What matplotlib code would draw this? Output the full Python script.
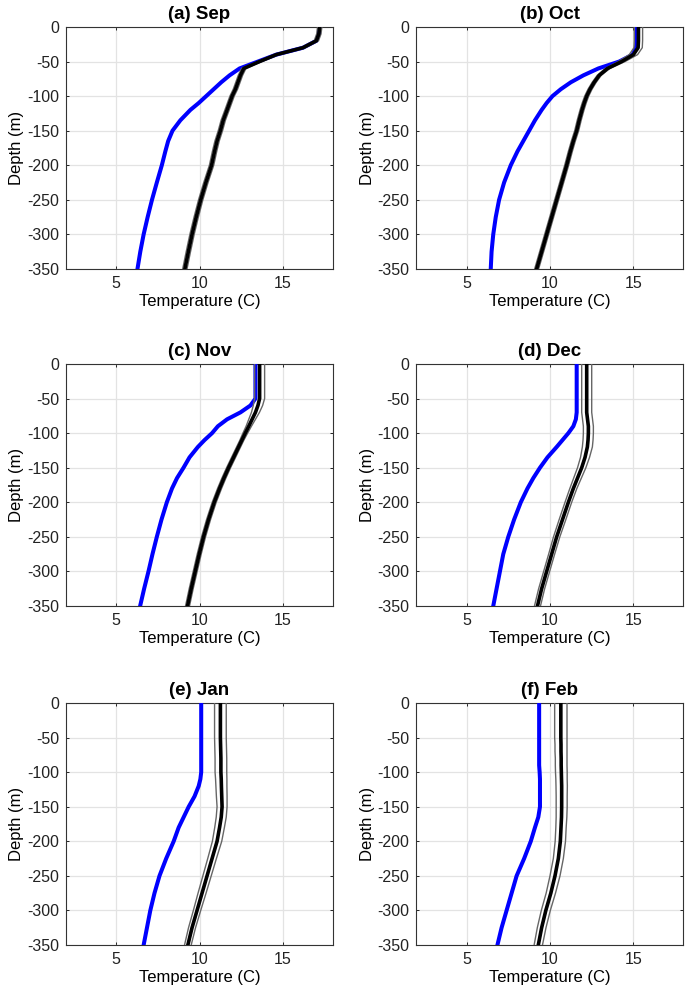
import matplotlib
matplotlib.use('Agg')
import matplotlib.pyplot as plt

plt.rcParams['font.family'] = ['Liberation Sans', 'DejaVu Sans']
plt.rcParams['axes.unicode_minus'] = False

# depth levels (m), shared by all months
depth = [0, -10, -20, -30, -40, -50, -60, -70, -80, -90, -100, -110, -120,
         -135, -150, -165, -180, -200, -225, -250, -275, -300, -325, -350]

titles = ['(a) Sep', '(b) Oct', '(c) Nov', '(d) Dec', '(e) Jan', '(f) Feb']

# blue profile
blue_sep = [17.2, 17.15, 17.0, 16.2, 14.6, 13.5, 12.4, 11.8, 11.3, 10.85, 10.4, 9.95, 9.45,
            8.85, 8.38, 8.12, 7.95, 7.74, 7.44, 7.15, 6.89, 6.65, 6.45, 6.28]
blue_oct = [15.2, 15.2, 15.2, 15.15, 14.95, 14.15, 12.9, 12.0, 11.25, 10.65, 10.15, 9.8, 9.5,
            9.1, 8.75, 8.4, 8.05, 7.65, 7.25, 6.95, 6.75, 6.6, 6.5, 6.45]
blue_nov = [13.35, 13.35, 13.35, 13.35, 13.35, 13.35, 13.05, 12.45, 11.65, 11.1, 10.75, 10.3, 9.9,
            9.4, 9.04, 8.65, 8.35, 8.04, 7.72, 7.44, 7.18, 6.94, 6.68, 6.44]
blue_dec = [11.6, 11.6, 11.6, 11.6, 11.6, 11.6, 11.6, 11.6, 11.55, 11.4, 11.1, 10.75, 10.4,
            9.85, 9.4, 9.0, 8.65, 8.25, 7.85, 7.5, 7.2, 7.0, 6.8, 6.6]
blue_jan = [10.1, 10.1, 10.1, 10.1, 10.1, 10.1, 10.1, 10.1, 10.1, 10.1, 10.1, 10.05, 9.95,
            9.7, 9.35, 9.05, 8.75, 8.45, 8.0, 7.6, 7.3, 7.05, 6.85, 6.65]
blue_feb = [9.35, 9.35, 9.35, 9.35, 9.35, 9.35, 9.35, 9.35, 9.35, 9.35, 9.38, 9.4, 9.4,
            9.4, 9.4, 9.3, 9.1, 8.85, 8.45, 8.0, 7.7, 7.4, 7.1, 6.85]

# black profile
black_sep = [17.2, 17.15, 17.0, 16.2, 14.6, 13.6, 12.65, 12.45, 12.3, 12.15, 11.95, 11.8, 11.65,
             11.42, 11.25, 11.05, 10.9, 10.72, 10.38, 10.07, 9.8, 9.55, 9.33, 9.12]
black_oct = [15.3, 15.3, 15.3, 15.28, 15.0, 14.3, 13.45, 12.95, 12.65, 12.4, 12.2, 12.05, 11.92,
             11.75, 11.6, 11.4, 11.22, 11.0, 10.7, 10.4, 10.1, 9.8, 9.5, 9.2]
black_nov = [13.6, 13.6, 13.6, 13.6, 13.6, 13.6, 13.5, 13.35, 13.15, 12.95, 12.74, 12.54, 12.34,
             12.04, 11.74, 11.46, 11.2, 10.88, 10.54, 10.24, 9.98, 9.74, 9.5, 9.28]
black_dec = [12.2, 12.2, 12.2, 12.2, 12.2, 12.2, 12.2, 12.2, 12.25, 12.3, 12.3, 12.28, 12.24,
             12.1, 11.9, 11.65, 11.4, 11.1, 10.75, 10.4, 10.1, 9.8, 9.5, 9.25]
black_jan = [11.25, 11.25, 11.25, 11.25, 11.25, 11.25, 11.26, 11.27, 11.28, 11.28, 11.28, 11.3, 11.31,
             11.33, 11.35, 11.3, 11.2, 11.05, 10.75, 10.45, 10.15, 9.85, 9.55, 9.3]
black_feb = [10.65, 10.65, 10.65, 10.65, 10.65, 10.65, 10.66, 10.66, 10.67, 10.67, 10.68, 10.69, 10.7,
             10.7, 10.7, 10.69, 10.66, 10.62, 10.5, 10.3, 10.05, 9.75, 9.5, 9.3]

# half width of the grey envelope around the black profile
spread_sep = [0.13] * 24
spread_oct = [0.25, 0.25, 0.25, 0.25, 0.25, 0.2, 0.14, 0.12, 0.12, 0.12, 0.12, 0.12, 0.12,
              0.12, 0.12, 0.12, 0.12, 0.12, 0.12, 0.12, 0.12, 0.12, 0.12, 0.12]
spread_nov = [0.3, 0.3, 0.3, 0.3, 0.3, 0.3, 0.28, 0.24, 0.2, 0.16, 0.14, 0.12, 0.12,
              0.12, 0.12, 0.12, 0.12, 0.12, 0.12, 0.12, 0.12, 0.12, 0.12, 0.12]
spread_dec = [0.3, 0.3, 0.3, 0.3, 0.3, 0.3, 0.3, 0.3, 0.3, 0.3, 0.3, 0.3, 0.3,
              0.27, 0.25, 0.23, 0.21, 0.2, 0.2, 0.19, 0.18, 0.18, 0.18, 0.18]
spread_jan = [0.35, 0.35, 0.35, 0.35, 0.35, 0.35, 0.35, 0.35, 0.35, 0.35, 0.35, 0.34, 0.33,
              0.32, 0.3, 0.3, 0.29, 0.28, 0.26, 0.25, 0.24, 0.22, 0.21, 0.2]
spread_feb = [0.37, 0.37, 0.37, 0.37, 0.37, 0.37, 0.36, 0.36, 0.35, 0.35, 0.35, 0.34, 0.34,
              0.33, 0.33, 0.32, 0.31, 0.31, 0.3, 0.3, 0.28, 0.27, 0.26, 0.25]

blues = [blue_sep, blue_oct, blue_nov, blue_dec, blue_jan, blue_feb]
blacks = [black_sep, black_oct, black_nov, black_dec, black_jan, black_feb]
spreads = [spread_sep, spread_oct, spread_nov, spread_dec, spread_jan, spread_feb]

fig = plt.figure(figsize=(6.85, 9.91), dpi=100)

# axes boxes in figure fraction
lefts = [0.0964, 0.608]
bottoms = [0.7286, 0.3885, 0.0464]
w = 0.3898
h = 0.2442

for i in range(6):
    r, c = divmod(i, 2)
    ax = fig.add_axes([lefts[c], bottoms[r], w, h])
    lo = [b - s for b, s in zip(blacks[i], spreads[i])]
    hi = [b + s for b, s in zip(blacks[i], spreads[i])]

    ax.plot(blues[i], depth, color='#0000ff', lw=2.9, zorder=3, solid_joinstyle='round')
    ax.plot(lo, depth, color='0.4', lw=1.0, zorder=4)
    ax.plot(hi, depth, color='0.4', lw=1.0, zorder=4)
    ax.plot(blacks[i], depth, color='black', lw=2.6, zorder=5, solid_joinstyle='round')

    ax.set_xlim(2, 18)
    ax.set_ylim(-350, 0)
    ax.set_xticks([5, 10, 15])
    ax.set_yticks(range(-350, 1, 50))
    ax.grid(True, color='#e3e3e3', lw=0.9)
    ax.set_axisbelow(True)
    ax.tick_params(direction='in', length=2.5, width=0.7, top=True, right=True,
                   labelsize=11.5, colors='#222222', pad=5)
    for sp in ax.spines.values():
        sp.set_color('#333333')
        sp.set_linewidth(0.8)

    ax.set_title(titles[i], fontsize=13.5, fontweight='bold', pad=6)
    ax.set_ylabel('Depth (m)', fontsize=12, labelpad=2)
    ax.set_xlabel('Temperature (C)', fontsize=12, labelpad=2)

plt.savefig('out.png', dpi=100)
